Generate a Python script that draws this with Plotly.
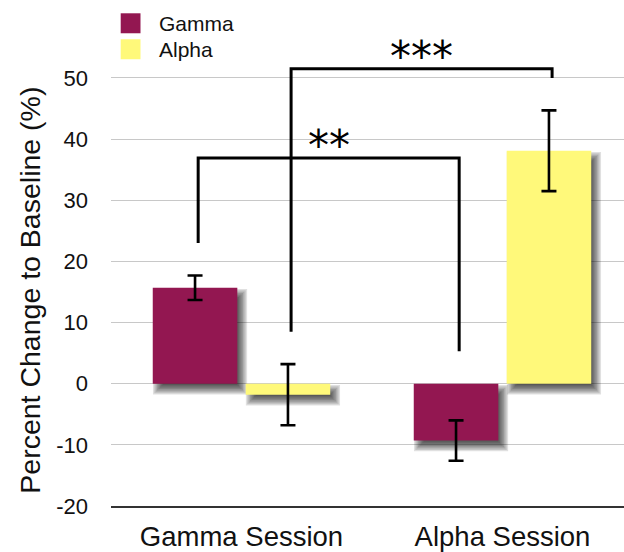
import plotly.graph_objects as go

# ---- data ----
sessions = ["Gamma Session", "Alpha Session"]
series_names = ["Gamma", "Alpha"]
series_colors = ["#931751", "#FFF97A"]
gamma_change = [15.7, -9.3]
gamma_sem = [2.0, 3.3]
alpha_change = [-1.8, 38.1]
alpha_sem = [5.0, 6.6]
y_ticks = [-20, -10, 0, 10, 20, 30, 40, 50]
y_tick_labels = ["-20", "-10", "0", "10", "20", "30", "40", "50"]

# significance brackets: (session, series) pairs, bracket height, label
sig_labels = ["**", "***"]
sig_pairs = [((0, 0), (1, 0)), ((0, 1), (1, 1))]
sig_levels = [36.9, 51.5]

values = [gamma_change, alpha_change]
errors = [gamma_sem, alpha_sem]

# ---- geometry ----
W, H = 624, 552
M_L, M_R, M_T, M_B = 111, 0, 0, 45.5
PLOT_W = W - M_L - M_R
PLOT_H = H - M_T - M_B
PX_PER_X = 261.0
PX_PER_Y = 6.121
x_range = [-0.5, -0.5 + PLOT_W / PX_PER_X]
y_range = [-20, -20 + PLOT_H / PX_PER_Y]
BAR_W = 0.324
BAR_OFFSETS = [-0.340, 0.016]
FONT = "Liberation Sans, Arial, Helvetica, sans-serif"
TXT = "#111111"


def paper_x(px):
    return (px - M_L) / PLOT_W


def paper_y(py):
    return (H - M_B - py) / PLOT_H


fig = go.Figure()
for s, name in enumerate(series_names):
    fig.add_trace(go.Bar(
        x=list(range(len(sessions))), y=values[s], name=name,
        width=BAR_W, offset=BAR_OFFSETS[s],
        marker=dict(color=series_colors[s], line=dict(width=0)),
        error_y=dict(type="data", array=errors[s], color="black",
                     thickness=2.6, width=7.5),
        showlegend=False,
    ))

shapes = []
annotations = []

# soft drop shadow under every bar
N_LAYERS = 8
BLUR = 5.5
DX, DY = 5.0, 6.0
for s in range(len(series_names)):
    for i, v in enumerate(values[s]):
        x0 = i + BAR_OFFSETS[s]
        x1 = x0 + BAR_W
        y0, y1 = min(0, v), max(0, v)
        for k in range(N_LAYERS):
            e = -BLUR + 2 * BLUR * (k + 0.5) / N_LAYERS
            ex, ey = e / PX_PER_X, e / PX_PER_Y
            shapes.append(dict(
                type="rect", xref="x", yref="y", layer="between",
                x0=x0 + DX / PX_PER_X - ex, x1=x1 + DX / PX_PER_X + ex,
                y0=y0 - DY / PX_PER_Y - ey, y1=y1 - DY / PX_PER_Y + ey,
                fillcolor="rgba(0,0,0,0.12)", line=dict(width=0),
            ))

# significance brackets
GAP = 5.3
X_NUDGE = 0.012
for label, pair, level in zip(sig_labels, sig_pairs, sig_levels):
    pts = []
    for sess, ser in pair:
        v, err = values[ser][sess], errors[ser][sess]
        xc = sess + BAR_OFFSETS[ser] + BAR_W / 2 + X_NUDGE
        tip = max(0, v + err)
        pts.append((xc, tip + GAP))
    (xa, ya), (xb, yb) = pts
    shapes.append(dict(
        type="path", xref="x", yref="y", layer="above",
        path=f"M{xa},{ya} L{xa},{level} L{xb},{level} L{xb},{yb}",
        line=dict(color="black", width=3),
    ))
    annotations.append(dict(
        x=(xa + xb) / 2, y=level + 3.2, xref="x", yref="y",
        text=label, showarrow=False, yshift=-7,
        font=dict(family="DejaVu Sans", size=42, color="black"),
    ))

# legend
LEG_X0, LEG_X1 = 120.7, 140.5
LEG_ROWS = [(13.3, 33.3), (39.3, 59.3)]
for (ty, by), name, color in zip(LEG_ROWS, series_names, series_colors):
    shapes.append(dict(
        type="rect", xref="paper", yref="paper",
        x0=paper_x(LEG_X0), x1=paper_x(LEG_X1),
        y0=paper_y(by), y1=paper_y(ty),
        fillcolor=color, line=dict(width=0),
    ))
    annotations.append(dict(
        x=paper_x(157), y=paper_y((ty + by) / 2), xref="paper", yref="paper",
        text=name, showarrow=False, xanchor="left", yanchor="middle",
        font=dict(family=FONT, size=21, color=TXT),
    ))

# y-axis title
annotations.append(dict(
    x=paper_x(30), y=paper_y(291), xref="paper", yref="paper",
    text="Percent Change to Baseline (%)", showarrow=False, textangle=-90,
    xanchor="center", yanchor="middle",
    font=dict(family=FONT, size=28.5, color=TXT),
))

fig.update_layout(
    width=W, height=H,
    margin=dict(l=M_L, r=M_R, t=M_T, b=M_B, pad=0, autoexpand=False),
    paper_bgcolor="white", plot_bgcolor="white",
    barmode="overlay",
    shapes=shapes, annotations=annotations,
    showlegend=False,
    xaxis=dict(
        range=x_range, tickvals=list(range(len(sessions))), ticktext=sessions,
        showgrid=False, zeroline=False, showline=True, automargin=False,
        linecolor="#333333", linewidth=1.6, ticks="",
        tickfont=dict(family=FONT, size=27.5, color=TXT),
        ticklabelstandoff=5,
    ),
    yaxis=dict(
        range=y_range, tickvals=y_ticks, ticktext=y_tick_labels,
        showgrid=True, gridcolor="#c8c8c8", gridwidth=1.3, automargin=False,
        zeroline=False, showline=False,
        ticks="", tickfont=dict(family=FONT, size=22, color=TXT),
        ticklabelstandoff=22,
    ),
)

fig.write_html("out.html")
